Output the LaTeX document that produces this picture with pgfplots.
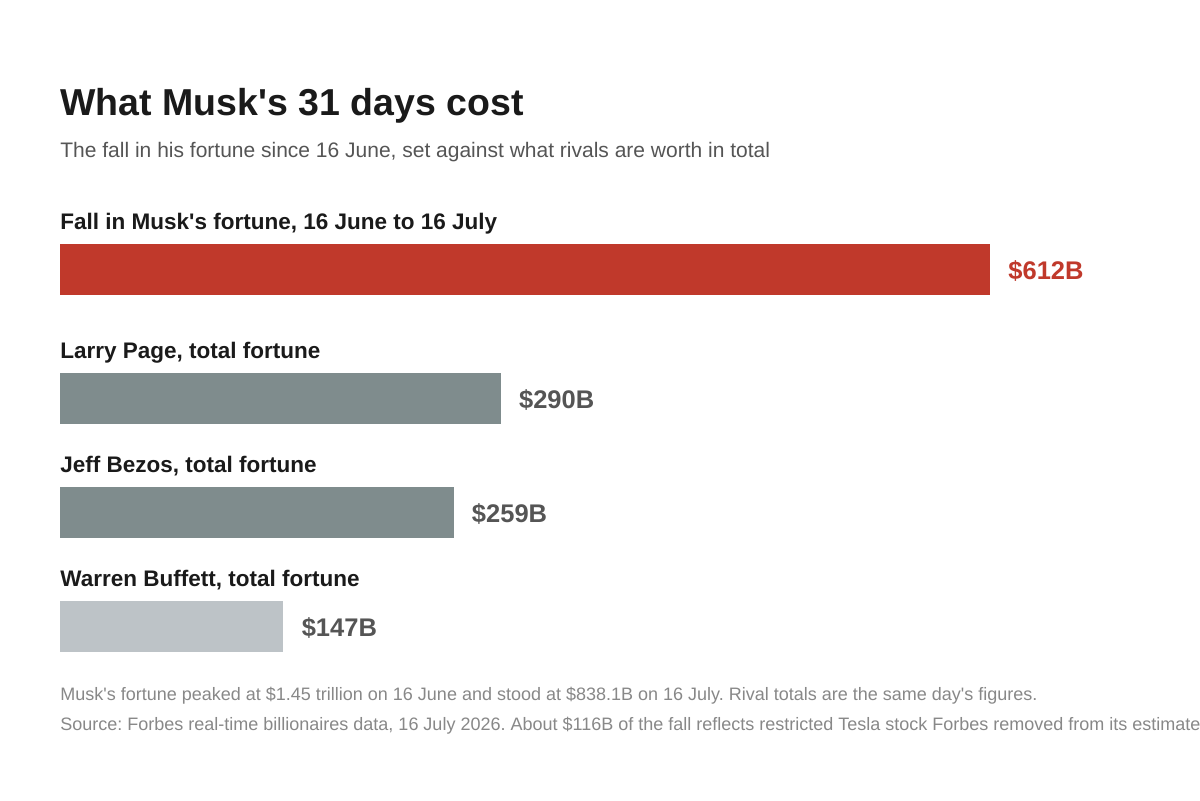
\documentclass[border=0pt]{standalone}
\usepackage{fontspec}
\setmainfont{Liberation Sans}[Ligatures=TeXOff]
\usepackage{pgfplots}
\pgfplotsset{compat=1.18}
\definecolor{musk}{HTML}{C0392B}
\definecolor{rival}{HTML}{7F8C8D}
\definecolor{rivallight}{HTML}{BDC3C7}
\definecolor{titlec}{HTML}{1A1A1A}
\definecolor{subc}{HTML}{555555}
\definecolor{valc}{HTML}{555555}
\definecolor{notec}{HTML}{888888}
\frenchspacing
\begin{document}
\begin{tikzpicture}
\useasboundingbox[fill=white] (0,0) rectangle (600pt,400pt);
\begin{axis}[
  at={(0,0)}, anchor=south west,
  width=600pt, height=400pt, scale only axis,
  xmin=-39.484, xmax=750.19,
  ymin=0, ymax=800, y dir=reverse,
  axis lines=none, ticks=none,
  clip=false,
  xbar, bar shift=0pt, bar width=25.5pt,
  /pgf/number format/assume math mode=true,
  nodes near coords,
  every node near coord/.append style={anchor=base west, inner sep=0pt, xshift=9pt, yshift=-4.75pt, font=\fontsize{12.75pt}{15pt}\selectfont\bfseries},
  nodes near coords={\$\pgfmathprintnumber{\pgfplotspointmeta}B},
  point meta=x,
]
\addplot[fill=musk, draw=none, every node near coord/.append style={text=musk}] coordinates {(612,269.5)};
\addplot[fill=rival, draw=none, every node near coord/.append style={text=valc}] coordinates {(290,398.5)};
\addplot[fill=rival, draw=none, every node near coord/.append style={text=valc}] coordinates {(259,512.5)};
\addplot[fill=rivallight, draw=none, every node near coord/.append style={text=valc}] coordinates {(147,626.5)};

\node[anchor=base west, inner sep=0pt, text=titlec, font=\fontsize{18.75pt}{22pt}\selectfont\bfseries] at (axis cs:0,115.5) {What Musk's 31 days cost};
\node[anchor=base west, inner sep=0pt, text=subc, font=\fontsize{10.5pt}{13pt}\selectfont] at (axis cs:0,157) {The fall in his fortune since 16 June, set against what rivals are worth in total};
\node[anchor=base west, inner sep=0pt, text=titlec, font=\fontsize{11.25pt}{14pt}\selectfont\bfseries] at (axis cs:0,229) {Fall in Musk's fortune, 16 June to 16 July};
\node[anchor=base west, inner sep=0pt, text=titlec, font=\fontsize{11.25pt}{14pt}\selectfont\bfseries] at (axis cs:0,358) {Larry Page, total fortune};
\node[anchor=base west, inner sep=0pt, text=titlec, font=\fontsize{11.25pt}{14pt}\selectfont\bfseries] at (axis cs:0,472) {Jeff Bezos, total fortune};
\node[anchor=base west, inner sep=0pt, text=titlec, font=\fontsize{11.25pt}{14pt}\selectfont\bfseries] at (axis cs:0,586) {Warren Buffett, total fortune};
\node[anchor=base west, inner sep=0pt, text=notec, font=\fontsize{9pt}{11pt}\selectfont] at (axis cs:0,700) {Musk's fortune peaked at \$1.45 trillion on 16 June and stood at \$838.1B on 16 July. Rival totals are the same day's figures.};
\node[anchor=base west, inner sep=0pt, text=notec, font=\fontsize{9pt}{11pt}\selectfont] at (axis cs:0,730) {Source: Forbes real-time billionaires data, 16 July 2026. About \$116B of the fall reflects restricted Tesla stock Forbes removed from its estimate};
\end{axis}
\end{tikzpicture}
\end{document}
